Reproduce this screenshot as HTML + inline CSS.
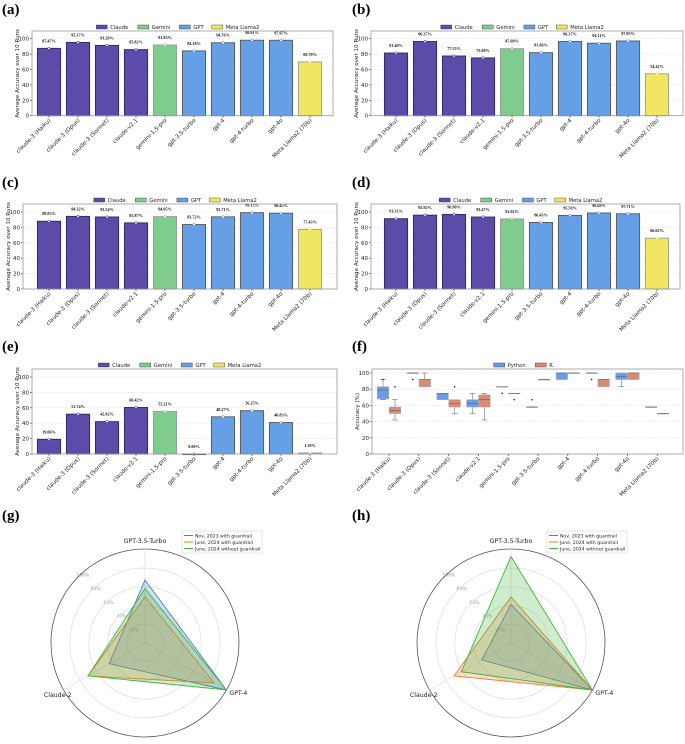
<!DOCTYPE html>
<html><head><meta charset="utf-8">
<style>
body{margin:0;background:#fff;}
svg{display:block;font-family:"DejaVu Sans","Liberation Sans",sans-serif;}
.pl{font-family:"Liberation Serif",serif;font-weight:bold;font-size:15px;}
</style></head>
<body>
<svg id="fig" width="685" height="744" viewBox="0 0 685 744" xmlns="http://www.w3.org/2000/svg">
<text class="pl" x="2" y="14">(a)</text>
<text class="pl" x="352" y="14">(b)</text>
<text class="pl" x="2" y="187">(c)</text>
<text class="pl" x="352" y="187">(d)</text>
<text class="pl" x="2" y="351">(e)</text>
<text class="pl" x="352" y="351">(f)</text>
<text class="pl" x="2" y="520">(g)</text>
<text class="pl" x="352" y="520">(h)</text>
</svg>
<script>
const models = ["claude-3 (Haiku)","claude-3 (Opus)","claude-3 (Sonnet)","claude-v2.1","gemini-1.5-pro","gpt-3.5-turbo","gpt-4","gpt-4-turbo","gpt-4o","Meta Llama2 (70b)"];
const families = ["Claude","Claude","Claude","Claude","Gemini","GPT","GPT","GPT","GPT","Meta Llama2"];
const valsA = [87.47,95.17,91.29,85.82,91.83,84.18,94.76,98.01,97.97,69.78];
const valsB = [81.40,96.37,77.55,75.08,87.08,81.86,96.37,94.11,97.05,54.42];
const valsC = [88.03,94.32,93.54,85.87,94.05,83.72,93.71,99.13,98.45,77.43];
const valsD = [91.31,95.92,96.90,93.47,91.02,86.43,95.59,98.69,97.71,66.02];
const valsE = [19.06,51.74,42.02,60.42,55.21,0.00,48.27,56.25,40.83,1.39];
const yTicks = [0,20,40,60,80,100];
const pyStats = [[67,68,79,83,92],[100,100,100,100,100],[67,67,75,75,75],[50,58,62,67,75],[83,83,83,83,83],[58,58,58,58,58],[92,92,100,100,100],[100,100,100,100,100],[83,92,96,100,100],[58,58,58,58,58]];
const rStats = [[42,50,54,58,67],[83,83,92,92,100],[50,58,62,67,67],[42,58,67,73,75],[75,75,75,75,75],[92,92,92,92,92],[100,100,100,100,100],[83,83,92,92,92],[92,92,100,100,100],[50,50,50,50,50]];
const pyOut = [[92],[92],[],[],[75],[67],[],[92],[],[]];
const rOut = [[83],[],[83],[],[67],[],[],[],[],[]];
const radarAxes = ["GPT-3.5-Turbo","GPT-4","Claude-2"];
const radarSeries = ["Nov, 2023 with guardrail","June, 2024 with guardrail","June, 2024 without guardrail"];
const radarG = [[67,100,44],[49,85,70],[58,100,70]];
const radarH = [[41,100,36],[49,100,70],[92,100,61]];
const radarTicks = [20,40,60,80,100];

const NS="http://www.w3.org/2000/svg";
const svg=document.getElementById('fig');
function mk(tag,attrs,parent,text){const e=document.createElementNS(NS,tag);for(const k in attrs)e.setAttribute(k,attrs[k]);if(text!==undefined)e.textContent=text;(parent||svg).appendChild(e);return e;}
const famColor={"Claude":"#5c4ba8","Gemini":"#80cc8e","GPT":"#65a0e6","Meta Llama2":"#efe762"};
const famEdge={"Claude":"#2e2860","Gemini":"#999","GPT":"#555","Meta Llama2":"#999"};
const legendFams=["Claude","Gemini","GPT","Meta Llama2"];

function axesFrame(g,x0,x1,yTop,y0,yScale,ylabel){
  mk('rect',{x:x0,y:yTop,width:x1-x0,height:y0-yTop,fill:'#fff',stroke:'none'},g);
  yTicks.forEach(t=>{const y=yScale(t);
    const gl=mk('line',{x1:x0,x2:x1,y1:y,y2:y,stroke:'#e6e6e6','stroke-width':0.6,'stroke-dasharray':'2,1'},g);
    
    mk('line',{x1:x0-2,x2:x0,y1:y,y2:y,stroke:'#333','stroke-width':0.6},g);
    const tl=mk('text',{x:x0-3,y:y+2,'font-size':5.5,'text-anchor':'end',fill:'#222'},g,t);
    
  });
  const yl=mk('text',{x:0,y:0,'font-size':5.6,'text-anchor':'middle',fill:'#222',transform:`translate(${x0-13},${(yTop+y0)/2}) rotate(-90)`},g,ylabel);
  
}
function frameBorder(g,x0,x1,yTop,y0){
  const b=mk('rect',{x:x0,y:yTop,width:x1-x0,height:y0-yTop,fill:'none',stroke:'#999','stroke-width':0.8},g);
  
}
function xLabels(g,cx0,dx,y0){
  models.forEach((m,i)=>{const x=cx0+i*dx;
    mk('line',{x1:x,x2:x,y1:y0,y2:y0+2,stroke:'#333','stroke-width':0.6},g);
    const t=mk('text',{x:0,y:0,'font-size':5.6,'text-anchor':'end',fill:'#222',transform:`translate(${x+2},${y0+5}) rotate(-45)`},g,m);
    
  });
}
function legend(g,cx,y,items,colors){
  const lg=mk('g',{},g);
  const widths=items.map(s=>14+s.length*3.1+9);
  const total=widths.reduce((a,b)=>a+b,0);let x=cx-total/2;
  items.forEach((s,i)=>{
    const e=mk('g',{},lg);
    mk('rect',{x:x,y:y-3,width:11,height:4,fill:colors[i],stroke:'#333','stroke-width':0.4},e);
    mk('text',{x:x+14,y:y+1,'font-size':5.2,fill:'#222'},e,s);
    x+=widths[i];
  });
}
function barPanel(name,vals,x0,x1,yTop,y100,y0,cx0,dx){
  const g=mk('g',{});
  const ys=v=>y0-v*(y0-y100)/100;
  axesFrame(g,x0,x1,yTop,y0,ys,'Average Accuracy over 10 Runs');
  const bw=dx*0.8;
  vals.forEach((v,i)=>{const cx=cx0+i*dx,f=families[i];
    const r=mk('rect',{x:cx-bw/2,y:ys(v),width:bw,height:Math.max(0.6,y0-ys(v)),fill:famColor[f],stroke:famEdge[f],'stroke-width':0.9},g);
    
    
    mk('circle',{cx:cx,cy:ys(v),r:1.2,fill:'#fff',stroke:famColor[f],'stroke-width':0.6},g);
    const t=mk('text',{x:cx,y:ys(v)-6,'font-size':4.2,'font-weight':'bold','text-anchor':'middle',fill:'#111','font-family':'Liberation Serif, serif'},g,v.toFixed(2)+'%');
    
  });
  frameBorder(g,x0,x1,yTop,y0);
  xLabels(g,cx0,dx,y0);
  legend(g,(x0+x1)/2,yTop-3,legendFams,legendFams.map(f=>famColor[f]));
}
barPanel('chart-a',valsA,32,333,31,38.7,115.7,49,29);
barPanel('chart-b',valsB,371,683,31,38.7,115.7,396,29);
barPanel('chart-c',valsC,23,337,204,212,289,49,29);
barPanel('chart-d',valsD,371,680,204,212,289,396,29);
barPanel('chart-e',valsE,32,337,369,377,454,49,29);

(function(){
  const x0=372,x1=683,yTop=369,y100=373,y0=454,cx0=389,dx=29.8;
  const g=mk('g',{});
  const ys=v=>y0-v*(y0-y100)/100;
  axesFrame(g,x0,x1,yTop,y0,ys,'Accuracy (%)');
  const bw=11.5;
  function box(st,outs,cx,col,nm){
    const bg=mk('g',{},g);
    mk('line',{x1:cx,x2:cx,y1:ys(st[0]),y2:ys(st[1]),stroke:'#555','stroke-width':0.5},bg);
    mk('line',{x1:cx,x2:cx,y1:ys(st[3]),y2:ys(st[4]),stroke:'#555','stroke-width':0.5},bg);
    mk('line',{x1:cx-bw/4,x2:cx+bw/4,y1:ys(st[0]),y2:ys(st[0]),stroke:'#555','stroke-width':0.5},bg);
    mk('line',{x1:cx-bw/4,x2:cx+bw/4,y1:ys(st[4]),y2:ys(st[4]),stroke:'#555','stroke-width':0.5},bg);
    mk('rect',{x:cx-bw/2,y:ys(st[3]),width:bw,height:Math.max(0.5,ys(st[1])-ys(st[3])),fill:col,stroke:'#aaa','stroke-width':0.6},bg);
    mk('line',{x1:cx-bw/2,x2:cx+bw/2,y1:ys(st[2]),y2:ys(st[2]),stroke:'#555','stroke-width':0.5},bg);
    outs.forEach(o=>mk('circle',{cx:cx,cy:ys(o),r:0.8,fill:'#222'},bg));
  }
  models.forEach((m,i)=>{const cx=cx0+i*dx;
    box(pyStats[i],pyOut[i],cx-6,'#6a9be8','box-python');
    box(rStats[i],rOut[i],cx+6,'#d98b74','box-r');
  });
  frameBorder(g,x0,x1,yTop,y0);
  xLabels(g,cx0,dx,y0);
  legend(g,(x0+x1)/2,yTop-3,["Python","R"],["#6a9be8","#d98b74"]);
})();

const radarColors=["#4a7fc0","#ef7d2a","#3fb43f"];
const radarFill=["rgba(74,127,192,0.25)","rgba(239,125,42,0.25)","rgba(63,180,63,0.25)"];
function radar(name,cx,cy,data,lx){
  const g=mk('g',{});
  const rs=v=>v*0.94;
  const ringR=t=>Math.max(1,0.94*t-19);
  const ang=[-90,30,150].map(a=>a*Math.PI/180);
  radarTicks.forEach(t=>{
    const c=mk('circle',{cx:cx,cy:cy,r:ringR(t),fill:'none',stroke:'#ddd','stroke-width':0.7},g);
    
    const a=(-90-43)*Math.PI/180;
    const tl=mk('text',{x:cx+rs(t)*Math.cos(a)+2,y:cy+rs(t)*Math.sin(a)+2,'font-size':4.5,fill:'#999','text-anchor':'middle'},g,t+'%');
    
  });
  const oc=mk('circle',{cx:cx,cy:cy,r:94,fill:'none',stroke:'#555','stroke-width':0.8},g);
  
  ang.forEach((a,i)=>{
    mk('line',{x1:cx,y1:cy,x2:cx+94*Math.cos(a),y2:cy+94*Math.sin(a),stroke:'#ddd','stroke-width':0.7},g);
    let tx,ty,anchor;
    if(i===0){tx=cx;ty=cy-94-6;anchor='middle';}
    else if(i===1){tx=cx+94*Math.cos(a)+3;ty=cy+94*Math.sin(a)+5;anchor='start';}
    else{tx=cx+94*Math.cos(a)+8;ty=cy+94*Math.sin(a)+7;anchor='end';}
    const t=mk('text',{x:tx,y:ty,'font-size':6.2,fill:'#222','text-anchor':anchor},g,radarAxes[i]);
    
  });
  data.forEach((s,k)=>{
    const pts=s.map((v,i)=>(cx+rs(v)*Math.cos(ang[i])).toFixed(1)+','+(cy+rs(v)*Math.sin(ang[i])).toFixed(1)).join(' ');
    const p=mk('polygon',{points:pts,fill:radarFill[k],stroke:radarColors[k],'stroke-width':0.9},g);
    
  });
  const lg=mk('g',{},g);
  mk('rect',{x:lx,y:531,width:80,height:22,fill:'#fff',stroke:'#ccc','stroke-width':0.5},lg);
  radarSeries.forEach((s,k)=>{
    const e=mk('g',{},lg);
    mk('line',{x1:lx+2,x2:lx+11,y1:535.5+k*6.5,y2:535.5+k*6.5,stroke:radarColors[k],'stroke-width':1},e);
    mk('text',{x:lx+13,y:537.3+k*6.5,'font-size':4.6,fill:'#222'},e,s);
  });
}
radar('chart-g',145,643,radarG,182);
radar('chart-h',511,643,radarH,547);
</script>
</body></html>
